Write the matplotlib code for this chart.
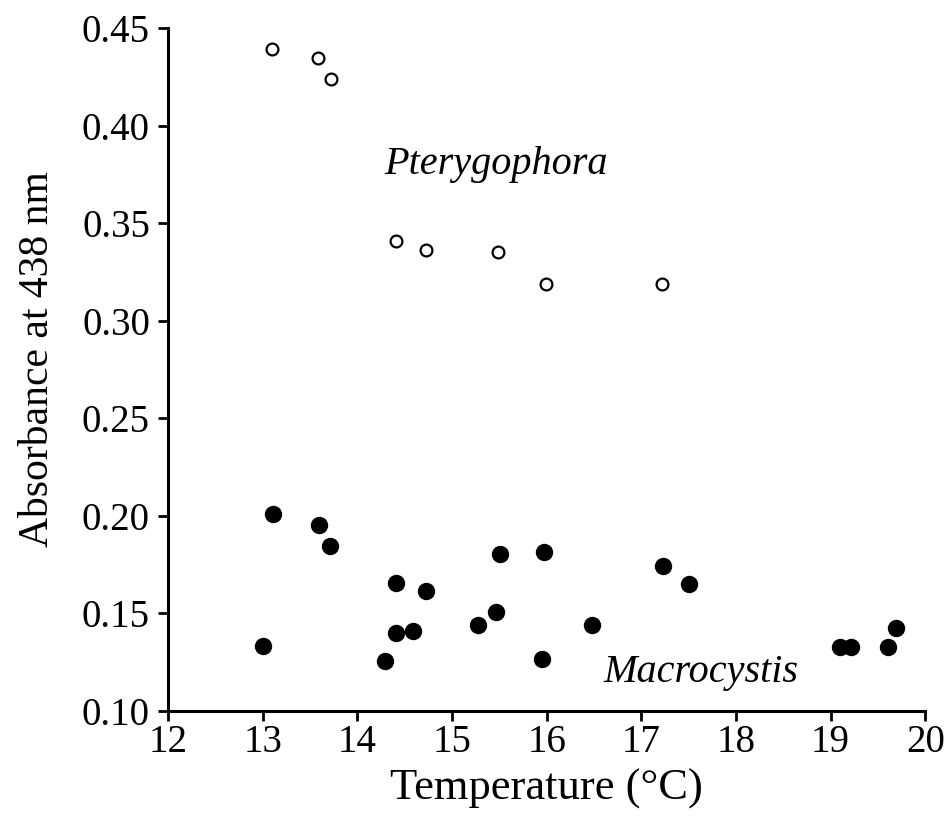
import matplotlib
matplotlib.use("Agg")
import matplotlib.pyplot as plt

# Pterygophora (open circles)
ptery_temp = [13.10, 13.58, 13.72, 14.41, 14.73, 15.49, 15.99, 17.22]
ptery_abs = [0.439, 0.4345, 0.424, 0.341, 0.336, 0.335, 0.319, 0.319]

# Macrocystis (filled circles)
macro_temp = [13.00, 13.11, 13.59, 13.71, 14.29, 14.41, 14.41, 14.59, 14.73,
              15.27, 15.47, 15.51, 15.97, 15.95, 16.48, 17.23, 17.50,
              19.10, 19.21, 19.61, 19.69]
macro_abs = [0.1335, 0.2008, 0.1951, 0.1844, 0.1256, 0.1656, 0.1401, 0.1411, 0.1615,
             0.1442, 0.1507, 0.1804, 0.1816, 0.1266, 0.1439, 0.1744, 0.1651,
             0.1329, 0.1329, 0.1329, 0.1424]

xticks = [12, 13, 14, 15, 16, 17, 18, 19, 20]
yticks = [0.10, 0.15, 0.20, 0.25, 0.30, 0.35, 0.40, 0.45]

plt.rcParams['font.family'] = ['Liberation Serif', 'DejaVu Serif']

fig = plt.figure(figsize=(9.46, 8.18), dpi=100)
ax = fig.add_axes([0.1776, 0.1308, 0.8005, 0.835])

ax.plot(ptery_temp, ptery_abs, 'o', ms=8.5, mfc='white', mec='black', mew=1.6, ls='none')
ax.plot(macro_temp, macro_abs, 'o', ms=11.5, mfc='black', mec='black', ls='none')

ax.set_xlim(12, 20)
ax.set_ylim(0.10, 0.45)
ax.set_xticks(xticks)
ax.set_yticks(yticks)
ax.set_xticklabels([str(t) for t in xticks])
ax.set_yticklabels([f"{t:.2f}" for t in yticks])

for s in ['top', 'right']:
    ax.spines[s].set_visible(False)
for s in ['left', 'bottom']:
    ax.spines[s].set_linewidth(2.2)

ax.tick_params(direction='out', length=7, width=2, labelsize=28)
ax.tick_params(axis='x', pad=2)
ax.tick_params(axis='y', pad=6)

ax.set_xlabel('Temperature (°C)', fontsize=32, labelpad=6)
ax.set_ylabel('Absorbance at 438 nm', fontsize=30, labelpad=18)
ax.yaxis.label.set_y(0.515)

ax.text(15.46, 0.375, 'Pterygophora', style='italic', fontsize=29, ha='center', va='baseline')
ax.text(17.63, 0.1149, 'Macrocystis', style='italic', fontsize=29, ha='center', va='baseline')

fig.savefig('out.png', dpi=100)
